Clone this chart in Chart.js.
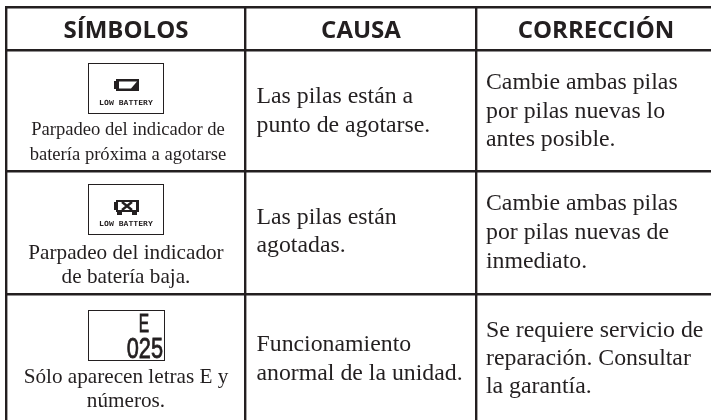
<!DOCTYPE html>
<html>
<head>
<meta charset="utf-8">
<script src="https://cdn.jsdelivr.net/npm/chart.js@4"></script>
<style>
  html, body { margin: 0; padding: 0; background: #fff; }
  #wrap { width: 711px; height: 420px; }
</style>
</head>
<body>
<div id="wrap"><canvas id="chart" width="711" height="420"></canvas></div>
<script>
const headers = ['SÍMBOLOS', 'CAUSA', 'CORRECCIÓN'];
const captions = [
    ['Parpadeo del indicador de', 'batería próxima a agotarse'],
    ['Parpadeo del indicador', 'de batería baja.'],
    ['Sólo aparecen letras E y', 'números.'],
];
const causes = [
    ['Las pilas están a', 'punto de agotarse.'],
    ['Las pilas están', 'agotadas.'],
    ['Funcionamiento', 'anormal de la unidad.'],
];
const fixes = [
    ['Cambie ambas pilas', 'por pilas nuevas lo', 'antes posible.'],
    ['Cambie ambas pilas', 'por pilas nuevas de', 'inmediato.'],
    ['Se requiere servicio de', 'reparación. Consultar', 'la garantía.'],
];
const columnRules = [6.5, 245.5, 476.5];
const rowRules = [7.5, 50.5, 171.5, 294];

const INK = '#231f20';
const SERIF = '"Liberation Serif", serif';
const SANS = '"Open Sans", sans-serif';

// icon box for each row: left, top, width, height
const iconBoxes = [[88.5, 63.5, 75, 50], [88.5, 184.5, 75, 50], [88.5, 310.5, 76, 50]];

function batteryIcon(ctx, x, y, crossed) {
    ctx.fillStyle = INK;
    ctx.fillRect(x, y + 2, 3, 8);
    ctx.fillRect(x + 2, y, 23, 12);
    ctx.fillStyle = '#fff';
    ctx.beginPath();
    if (crossed) {
        ctx.rect(x + 4, y + 2, 18, 8);
        ctx.fill();
        ctx.strokeStyle = INK;
        ctx.lineWidth = 2.4;
        ctx.beginPath();
        ctx.moveTo(x + 8, y + 2); ctx.lineTo(x + 18, y + 10);
        ctx.moveTo(x + 18, y + 2); ctx.lineTo(x + 8, y + 10);
        ctx.stroke();
        ctx.fillStyle = INK;
        ctx.fillRect(x + 3, y + 12, 5, 3);
        ctx.fillRect(x + 18, y + 12, 5, 3);
    } else {
        // empty cell with the slanted sliver on the right
        ctx.moveTo(x + 5, y + 2.5);
        ctx.lineTo(x + 23, y + 2.5);
        ctx.lineTo(x + 17, y + 9.5);
        ctx.lineTo(x + 5, y + 9.5);
        ctx.closePath();
        ctx.fill();
    }
}

function squeezedText(ctx, text, anchorX, baseY, xScale, thicken) {
    ctx.save();
    ctx.translate(anchorX, baseY);
    ctx.scale(xScale, 1);
    ctx.fillText(text, 0, 0);
    if (thicken) {
        ctx.strokeStyle = INK;
        ctx.lineWidth = thicken;
        ctx.strokeText(text, 0, 0);
    }
    ctx.restore();
}

const tableText = {
    id: 'tableText',
    afterDraw(chart) {
        const { ctx, scales: { x, y } } = chart;
        ctx.save();
        ctx.textBaseline = 'alphabetic';

        // headers
        ctx.fillStyle = INK;
        ctx.font = 'bold 24px ' + SANS;
        ctx.textAlign = 'center';
        [126, 361, 596].forEach((cx, i) => ctx.fillText(headers[i], x.getPixelForValue(cx), y.getPixelForValue(38)));

        // first column captions, the top one is set smaller
        [[135, 160], [259, 283], [383, 407]].forEach((lines, r) => {
            const cx = r === 0 ? 128 : 126;
            ctx.font = (r === 0 ? '18.6px ' : '21.2px ') + SERIF;
            lines.forEach((ly, l) => ctx.fillText(captions[r][l], x.getPixelForValue(cx), y.getPixelForValue(ly)));
        });

        // cause and correction cells
        ctx.textAlign = 'left';
        ctx.font = '23.8px ' + SERIF;
        [[103, 132], [224, 252], [351, 380]].forEach((lines, r) => {
            lines.forEach((ly, l) => ctx.fillText(causes[r][l], x.getPixelForValue(256.5), y.getPixelForValue(ly)));
        });
        [[89, 118, 146], [210, 239, 268], [337, 365, 393]].forEach((lines, r) => {
            lines.forEach((ly, l) => ctx.fillText(fixes[r][l], x.getPixelForValue(486), y.getPixelForValue(ly)));
        });

        // LCD icons
        ctx.strokeStyle = INK;
        ctx.lineWidth = 1;
        iconBoxes.forEach(b => ctx.strokeRect(b[0], b[1], b[2], b[3]));
        batteryIcon(ctx, 114, 79, false);
        batteryIcon(ctx, 114, 200, true);
        ctx.fillStyle = INK;
        ctx.textAlign = 'center';
        ctx.font = 'bold 7px "DejaVu Sans Mono", monospace';
        squeezedText(ctx, 'LOW BATTERY', 126, 105, 1.16);
        squeezedText(ctx, 'LOW BATTERY', 126, 226, 1.16);
        ctx.textAlign = 'right';
        ctx.font = '25px "Liberation Sans", sans-serif';
        squeezedText(ctx, 'E', 149, 332, 0.62, 0.8);
        ctx.font = '29px "Liberation Sans", sans-serif';
        squeezedText(ctx, '025', 163, 358, 0.75, 0.8);
        ctx.restore();
    }
};

new Chart(document.getElementById('chart'), {
    type: 'scatter',
    data: { datasets: [{ data: [], pointRadius: 0 }] },
    plugins: [tableText],
    options: {
        responsive: false,
        animation: false,
        layout: { padding: { left: 5, top: 6, right: 0, bottom: 0 } },
        plugins: { legend: { display: false }, tooltip: { enabled: false } },
        scales: {
            x: {
                type: 'linear', min: 5, max: 711,
                afterBuildTicks: s => { s.ticks = columnRules.map(v => ({ value: v })); },
                ticks: { display: false },
                grid: { color: INK, lineWidth: 2.4, drawTicks: false },
                border: { display: false },
            },
            y: {
                type: 'linear', min: 6, max: 420, reverse: true,
                afterBuildTicks: s => { s.ticks = rowRules.map(v => ({ value: v })); },
                ticks: { display: false },
                grid: { color: INK, lineWidth: 2.4, drawTicks: false },
                border: { display: false },
            },
        },
    },
});
</script>
</body>
</html>
